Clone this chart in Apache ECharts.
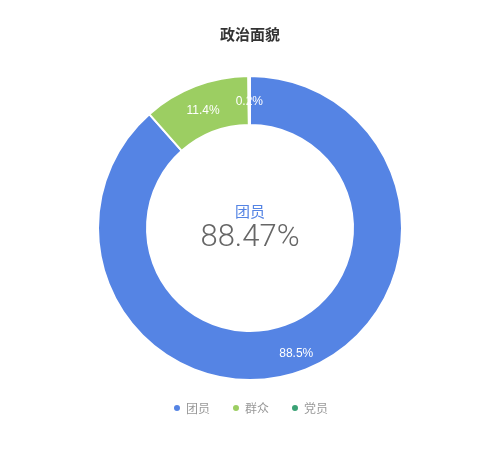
<!DOCTYPE html>
<html>
<head>
<meta charset="utf-8">
<script src="https://cdn.jsdelivr.net/npm/echarts@6/dist/echarts.min.js"></script>
<style>html,body{margin:0;padding:0;background:#fff}#c{width:500px;height:450px}</style>
</head>
<body>
<div id="c"></div>
<script>
var categories = ['团员', '群众', '党员'];
var values = [88.47, 11.36, 0.17];
var colors = ['#5584e4', '#9cce62', '#3aa275'];
var centerName = '团员';
var centerValue = '88.47%';

var chart = echarts.init(document.getElementById('c'));
chart.setOption({
  color: colors,
  title: [
    { text: '政治面貌', left: 'center', top: 22,
      textStyle: { fontSize: 15, fontWeight: 'bold', color: '#333', fontFamily: 'Noto Sans CJK SC' } },
    { text: centerName, subtext: centerValue, left: 'center', top: 199, itemGap: 4,
      textStyle: { fontSize: 15, fontWeight: 'normal', color: '#5584e4', fontFamily: 'Noto Sans CJK SC' },
      subtextStyle: { fontSize: 31, fontWeight: 300, color: '#666', fontFamily: 'Roboto' } }
  ],
  legend: {
    bottom: 31, left: 'center', icon: 'circle', itemWidth: 8, itemHeight: 8, itemGap: 21,
    textStyle: { color: '#999', fontSize: 12, fontFamily: 'Noto Sans CJK SC' },
    data: categories
  },
  series: [{
    type: 'pie',
    radius: [103, 152],
    center: ['50%', 228],
    clockwise: true,
    startAngle: 90,
    avoidLabelOverlap: false,
    itemStyle: { borderColor: '#fff', borderWidth: 2 },
    label: {
      show: true, position: 'inside', color: '#fff', fontSize: 12, offset: [0, 4],
      formatter: function (p) { return p.value.toFixed(1) + '%'; }
    },
    labelLine: { show: false },
    data: categories.map(function (c, i) { return { name: c, value: values[i] }; })
  }]
});
</script>
</body>
</html>
